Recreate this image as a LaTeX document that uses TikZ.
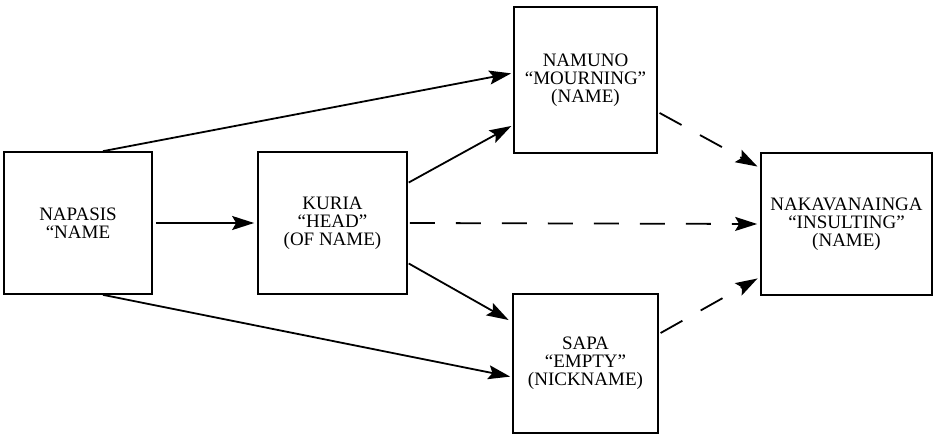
\documentclass[tikz,border=0pt]{standalone}
\usepackage{fontspec}
\setmainfont{Liberation Serif}
\usetikzlibrary{arrows.meta}
\begin{document}
\begin{tikzpicture}[x=1pt,y=-1pt,
  box/.style={draw,line width=1.7pt,rectangle,inner sep=0pt,align=center,
    font=\fontsize{19}{18}\selectfont},
  arr/.style={line width=1.8pt,-{Stealth[length=22pt,width=14pt,inset=4pt]},shorten >=2pt},
  dsh/.style={arr,dash pattern=on 25pt off 21pt}]
\useasboundingbox (0,0) rectangle (935,444);
\node[box,minimum width=148pt,minimum height=142pt] (nap) at (78,223) {NAPASIS\\``NAME};
\node[box,minimum width=149pt,minimum height=142pt] (kur) at (332.5,223) {KURIA\\``HEAD''\\(OF NAME)};
\node[box,minimum width=143pt,minimum height=146pt] (nam) at (585.5,80) {NAMUNO\\``MOURNING''\\(NAME)};
\node[box,minimum width=145pt,minimum height=139pt] (sap) at (585.5,363.5) {SAPA\\``EMPTY''\\(NICKNAME)};
\node[box,minimum width=171pt,minimum height=142pt] (ins) at (846.5,224) {NAKAVANAINGA\\``INSULTING''\\(NAME)};
\draw[arr] ([xshift=25pt]nap.north) -- ([yshift=7pt]nam.west);
\draw[arr,shorten <=3pt,shorten >=3pt] (nap.east) -- (kur.west);
\draw[arr] ([xshift=25pt]nap.south) -- ([yshift=-13.5pt]sap.west);
\draw[arr,shorten <=1pt] ([yshift=40pt]kur.east) -- ([yshift=-45pt]nam.west);
\draw[arr,shorten <=1pt,shorten >=4pt] ([yshift=-40pt]kur.east) -- ([yshift=41.5pt]sap.west);
\draw[dsh,shorten <=2pt,shorten >=3pt] (kur.east) -- (ins.west);
\draw[dsh,shorten <=2pt,shorten >=3pt] ([yshift=-32pt]nam.east) -- ([yshift=56pt]ins.west);
\draw[dsh,shorten <=2pt,shorten >=3pt] ([yshift=29.5pt]sap.east) -- ([yshift=-53pt]ins.west);
\end{tikzpicture}
\end{document}
